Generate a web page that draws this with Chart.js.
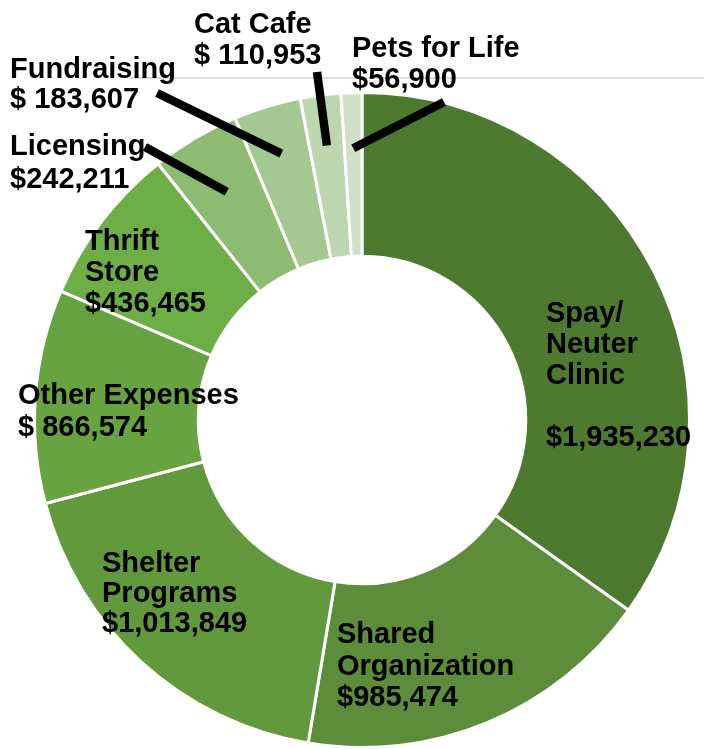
<!DOCTYPE html>
<html>
<head>
<meta charset="utf-8">
<script src="https://cdn.jsdelivr.net/npm/chart.js@4"></script>
<style>
  html, body { margin: 0; padding: 0; background: #fff; }
  canvas { display: block; }
</style>
</head>
<body>
<canvas id="myChart" width="704" height="749"></canvas>
<script>
'use strict'

// categories, clockwise from 12 o'clock
const categories = ['Spay/Neuter Clinic', 'Shared Organization', 'Shelter Programs', 'Other Expenses',
  'Thrift Store', 'Licensing', 'Fundraising', 'Cat Cafe', 'Pets for Life']

// slice sizes as drawn (the Other Expenses slice is drawn smaller than its label says)
const sliceValues = [1935230, 985474, 1013849, 585000, 436465, 242211, 183607, 110953, 56900]

// label text as printed
const labelLines = [
  ['Spay/', 'Neuter', 'Clinic', '', '$1,935,230'],
  ['Shared', 'Organization', '$985,474'],
  ['Shelter', 'Programs', '$1,013,849'],
  ['Other Expenses', '$ 866,574'],
  ['Thrift', 'Store', '$436,465'],
  ['Licensing', '$242,211'],
  ['Fundraising', '$ 183,607'],
  ['Cat Cafe', '$ 110,953'],
  ['Pets for Life', '$56,900']
]

const sliceColors = ['#4e7a2f', '#5d8c3a', '#62993c', '#67a341', '#6eae46',
  '#8dbb72', '#a3c891', '#bcd6b0', '#d0dfc8']

// where each label sits: x, first baseline, line height
const labelPos = [
  { x: 546, y: 322, lh: 31 },
  { x: 337, y: 643, lh: 31.5 },
  { x: 102, y: 572, lh: 30 },
  { x: 18, y: 404, lh: 32 },
  { x: 85, y: 250, lh: 31 },
  { x: 10, y: 155, lh: 33 },
  { x: 10, y: 78, lh: 30 },
  { x: 194, y: 33, lh: 31 },
  { x: 352, y: 57, lh: 31 }
]

// leader lines: slice index, outer end, how far into the ring the inner end goes
const leaders = [
  { i: 8, x: 444, y: 102, r: 0.83 },
  { i: 7, x: 317, y: 72, r: 0.845 },
  { i: 6, x: 157, y: 93, r: 0.85 },
  { i: 5, x: 145, y: 147, r: 0.81 }
]

const labelPlugin = {
  id: 'labelPlugin',
  beforeDraw(chart) {
    const c = chart.ctx
    c.save()
    c.strokeStyle = '#dcdcdc'
    c.lineWidth = 2
    c.beginPath()
    c.moveTo(130, 78)
    c.lineTo(704, 78)
    c.stroke()
    c.restore()
  },
  afterDraw(chart) {
    const c = chart.ctx
    const meta = chart.getDatasetMeta(0)
    c.save()

    c.strokeStyle = '#000'
    c.lineWidth = 8.5
    leaders.forEach((l) => {
      const arc = meta.data[l.i]
      const mid = (arc.startAngle + arc.endAngle) / 2
      const rr = arc.outerRadius * l.r
      c.beginPath()
      c.moveTo(l.x, l.y)
      c.lineTo(arc.x + Math.cos(mid) * rr, arc.y + Math.sin(mid) * rr)
      c.stroke()
    })

    c.fillStyle = '#000'
    c.font = 'bold 29px "Liberation Sans", Arial, sans-serif'
    c.textBaseline = 'alphabetic'
    c.textAlign = 'left'
    labelLines.forEach((lines, k) => {
      const p = labelPos[k]
      lines.forEach((txt, j) => {
        c.fillText(txt, p.x, p.y + j * p.lh)
      })
    })
    c.restore()
  }
}

const ctx = document.getElementById('myChart')

new Chart(ctx, {
  type: 'doughnut',
  data: {
    labels: categories,
    datasets: [{
      data: sliceValues,
      backgroundColor: sliceColors,
      borderColor: '#ffffff',
      borderWidth: 3
    }]
  },
  options: {
    responsive: false,
    animation: false,
    cutout: '50%',
    layout: { padding: { left: 32, right: 12, top: 91, bottom: -4 } },
    plugins: {
      legend: { display: false },
      tooltip: { enabled: false }
    }
  },
  plugins: [labelPlugin]
})
</script>
</body>
</html>
